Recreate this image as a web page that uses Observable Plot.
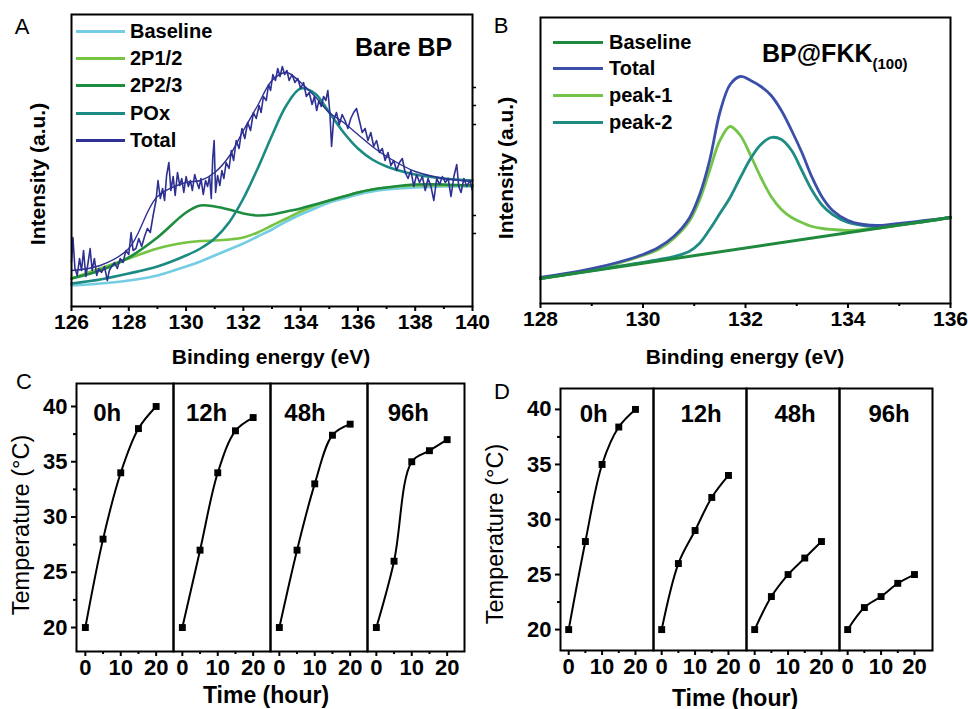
<!DOCTYPE html>
<html><head><meta charset="utf-8">
<script src="https://cdn.jsdelivr.net/npm/d3@7"></script>
<script src="https://cdn.jsdelivr.net/npm/@observablehq/plot@0.6"></script>
<style>
body{margin:0;background:#fff;}
#root{position:relative;width:968px;height:709px;overflow:hidden;font-family:"Liberation Sans",Arial,sans-serif;color:#000;}
.panel{position:absolute;}
.panel svg{overflow:visible;}
.t{position:absolute;white-space:nowrap;line-height:1;}
.leg{position:absolute;height:3px;}
</style></head><body><div id="root"></div>
<script>
// ---------- Panel A : Bare BP (XPS P 2p) ----------
const aGridE = [126,127,128,129,130,130.5,131,131.5,132,132.5,133,133.5,134,134.5,135,135.5,136,136.5,137,138,139,140];
const aBaseline = [21,23,26,31,40,45,51,57,63,70,77,85,92,98,104,108,112,115,117,119,120,120];
const a2P12     = [28,38,48,58,64,65.5,66,67,69,74,81,88,95,101,106,110,114,117,119,121,121,121];
const a2P23     = [28,36,49,69,94,101,100,97,93,91,92,95,98,102,106,110,114,117,119,122,122,121];
const aPOx      = [23,27,33,40,51,58,68,84,108,138,171,201,218,213,194,174,158,147,140,132,128,126];
const aTotalFit = [36,41,58,110,124,126,134,150,176,201,226,234,224,210,194,184,172,160,150,135,128,125];
const aRawE = [126.00,126.05,126.12,126.20,126.28,126.35,126.42,126.50,126.58,126.65,126.72,126.80,126.88,126.95,127.05,127.15,127.25,127.32,127.40,127.50,127.60,127.70,127.80,127.90,128.00,128.08,128.15,128.25,128.35,128.45,128.55,128.65,128.75,128.85,128.95,129.02,129.10,129.18,129.25,129.32,129.40,129.47,129.55,129.62,129.70,129.78,129.85,129.92,130.00,130.08,130.15,130.22,130.30,130.38,130.45,130.52,130.60,130.68,130.75,130.82,130.88,130.93,130.98,131.03,131.10,131.18,131.25,131.32,131.40,131.50,131.58,131.66,131.75,131.85,131.95,132.05,132.15,132.25,132.35,132.45,132.55,132.62,132.70,132.80,132.88,132.95,133.03,133.12,133.20,133.28,133.36,133.44,133.52,133.60,133.70,133.80,133.90,134.00,134.10,134.20,134.30,134.40,134.48,134.56,134.64,134.72,134.80,134.88,134.95,135.02,135.08,135.15,135.25,135.35,135.45,135.55,135.65,135.75,135.85,135.95,136.05,136.15,136.25,136.35,136.45,136.55,136.65,136.75,136.85,136.95,137.05,137.15,137.25,137.35,137.45,137.55,137.65,137.75,137.85,137.95,138.05,138.15,138.25,138.35,138.45,138.55,138.65,138.75,138.85,138.95,139.05,139.15,139.25,139.35,139.45,139.52,139.60,139.70,139.80,139.90,140.00];
const aRawI = [44,69,38,31,48,36,56,30,44,58,36,48,31,38,34,40,26,36,40,44,38,48,44,56,52,74,56,58,68,60,70,78,74,91,106,126,108,118,106,131,144,116,130,111,134,121,128,114,130,120,126,116,132,124,118,128,112,126,120,130,108,148,166,114,131,121,136,128,144,138,156,146,166,158,178,168,184,176,194,188,201,194,210,206,222,216,232,226,238,230,240,232,236,226,232,224,228,218,224,210,214,202,210,196,206,200,210,206,216,194,160,186,194,182,192,186,178,188,194,198,186,174,178,166,174,160,166,154,158,146,154,141,146,136,144,148,134,128,136,120,132,124,130,116,128,120,106,128,122,130,124,128,110,130,142,120,114,128,120,126,116];
const aRightTicks = [73,91,182,201,219];
const aLegend = ["Baseline","2P1/2","2P2/3","POx","Total"];

// ---------- Panel B : BP@FKK(100) ----------
const bGridE = [128,128.5,129,129.5,130,130.3,130.6,130.9,131.1,131.3,131.5,131.7,131.9,132.1,132.3,132.5,132.7,132.9,133.1,133.3,133.5,133.7,134,134.3,134.6,135,135.5,136];
const bTotal = [26,30,35,41,49,56,67,85,108,143,191,219,227,223,217,208,193,173,151,126,106,93,83,79,78,80,83,86];
const bPeak1 = [25,29,34,40,48,54,65,82,103,133,163,177,168,148,126,107,94,86,81,77,75,74,73,74,75.5,78.5,82,86];
const bPeak2 = [25,29,33,37,41,44,47,52,60,74,90,106,126,145,159,166,164,153,133,113,98,89,81,78,77,79,82,86];
const bBaseE = [128,136];
const bBaseline = [25,86];
const bLegend = ["Baseline","Total","peak-1","peak-2"];

// ---------- Panels C, D : temperature vs time ----------
const hours = [0,5,10,15,20];
const stages = ["0h","12h","48h","96h"];
const c0h = [20,28,34,38,40];
const c12h = [20,27,34,37.8,39];
const c48h = [20,27,33,37.4,38.4];
const c96h = [20,26,35,36,37];
const d0h = [20,28,35,38.4,40];
const d12h = [20,26,29,32,34];
const d48h = [20,23,25,26.5,28];
const d96h = [20,22,23,24.2,25];
const xTicksTime = [0,10,20];
const yTicksTemp = [20,25,30,35,40];

// ---------- helpers ----------
const root = document.getElementById("root");
const FONT = '"Liberation Sans", Arial, sans-serif';
const baseStyle = {fontFamily: FONT, fontSize: "21px", fontWeight: "bold", color: "#000", background: "transparent", overflow: "visible"};
function place(el, left, top) {
  const d = document.createElement("div");
  d.className = "panel"; d.style.left = left + "px"; d.style.top = top + "px";
  d.appendChild(el); root.appendChild(d);
}
function text(html, x, y, o = {}) {
  const d = document.createElement("div");
  d.className = "t";
  d.innerHTML = html;
  d.style.fontSize = (o.size || 21) + "px";
  d.style.fontWeight = o.weight || "bold";
  d.style.left = x + "px"; d.style.top = y + "px";
  const ax = o.anchor === "start" ? "0" : "-50%";
  d.style.transform = `translate(${ax},-50%)`;
  if (o.rotate) { d.style.transform = `translate(-50%,-50%) rotate(${o.rotate}deg)`; }
  root.appendChild(d);
}
function legend(names, colors, x0, x1, ys, tx) {
  names.forEach((n, i) => {
    const l = document.createElement("div");
    l.className = "leg"; l.style.left = x0 + "px"; l.style.width = (x1 - x0) + "px";
    l.style.top = (ys[i] - 1.5) + "px"; l.style.background = colors[i];
    root.appendChild(l);
    text(n, tx, ys[i], {size: 20, anchor: "start"});
  });
}
const rows = (E, V) => E.map((e, i) => ({e, v: V[i]}));

// ---------- Panel A ----------
const colA = ["#74cde3", "#76c442", "#1e8c3f", "#1b8a82", "#2e3192"];
const plotA = Plot.plot({
  width: 480, height: 360, marginLeft: 71, marginRight: 8, marginTop: 14, marginBottom: 54,
  style: baseStyle,
  x: {domain: [126, 140]},
  y: {domain: [0, 292]},
  marks: [
    Plot.line(rows(aGridE, aBaseline), {x: "e", y: "v", stroke: colA[0], strokeWidth: 2.6, curve: "catmull-rom"}),
    Plot.line(rows(aGridE, a2P12), {x: "e", y: "v", stroke: colA[1], strokeWidth: 2.6, curve: "catmull-rom"}),
    Plot.line(rows(aGridE, a2P23), {x: "e", y: "v", stroke: colA[2], strokeWidth: 2.6, curve: "catmull-rom"}),
    Plot.line(rows(aGridE, aPOx), {x: "e", y: "v", stroke: colA[3], strokeWidth: 2.6, curve: "catmull-rom"}),
    Plot.line(rows(aRawE, aRawI), {x: "e", y: "v", stroke: colA[4], strokeWidth: 1.6}),
    Plot.line(rows(aGridE, aTotalFit), {x: "e", y: "v", stroke: colA[4], strokeWidth: 1.4, curve: "catmull-rom"}),
    Plot.frame({stroke: "black", strokeWidth: 2}),
    Plot.axisX({ticks: d3.range(126, 141, 2), tickSize: 5, tickPadding: 3, strokeWidth: 2, label: null}),
    Plot.axisX({ticks: d3.range(127, 140, 2), tickSize: 3, strokeWidth: 2, tickFormat: () => "", label: null}),
    Plot.axisY({anchor: "right", ticks: aRightTicks, tickSize: 3, strokeWidth: 1.5, tickFormat: () => "", label: null})
  ]
});
place(plotA, 0, 0);

// ---------- Panel B ----------
const colB = ["#1f8a3e", "#3b4fa8", "#72c548", "#1f8c84"];
const plotB = Plot.plot({
  width: 488, height: 360, marginLeft: 60, marginRight: 18, marginTop: 17, marginBottom: 57,
  style: baseStyle,
  x: {domain: [128, 136]},
  y: {domain: [0, 286], axis: null},
  marks: [
    Plot.line(rows(bGridE, bPeak1), {x: "e", y: "v", stroke: colB[2], strokeWidth: 2.8, curve: "catmull-rom"}),
    Plot.line(rows(bGridE, bPeak2), {x: "e", y: "v", stroke: colB[3], strokeWidth: 2.8, curve: "catmull-rom"}),
    Plot.line(rows(bGridE, bTotal), {x: "e", y: "v", stroke: colB[1], strokeWidth: 2.8, curve: "catmull-rom"}),
    Plot.line(rows(bBaseE, bBaseline), {x: "e", y: "v", stroke: colB[0], strokeWidth: 3}),
    Plot.frame({stroke: "black", strokeWidth: 2}),
    Plot.axisX({ticks: d3.range(128, 137, 2), tickSize: 5, tickPadding: 3, strokeWidth: 2, label: null}),
    Plot.axisX({ticks: d3.range(129, 136, 2), tickSize: 3, strokeWidth: 2, tickFormat: () => "", label: null})
  ]
});
place(plotB, 480, 0);

// ---------- Panels C & D ----------
function tempPlot(series, o) {
  const data = [];
  stages.forEach((s, k) => hours.forEach((h, i) => data.push({s, h, t: series[k][i]})));
  return Plot.plot({
    width: o.width, height: 349, marginLeft: o.ml, marginRight: o.mr, marginTop: o.mt, marginBottom: o.mb,
    style: {...baseStyle, fontSize: "22px"},
    fx: {domain: stages, padding: 0, axis: null},
    x: {domain: o.xd},
    y: {domain: o.yd},
    marks: [
      Plot.frame({stroke: "black", strokeWidth: 2}),
      Plot.line(data, {fx: "s", x: "h", y: "t", stroke: "black", strokeWidth: 2, curve: "catmull-rom"}),
      Plot.dot(data, {fx: "s", x: "h", y: "t", symbol: "square", fill: "black", r: 3.9}),
      Plot.text(stages, {fx: d => d, x: d => o.labelX[d], y: o.labelY, text: d => d, textAnchor: "start", fontSize: 24}),
      Plot.axisX({ticks: xTicksTime, tickSize: 5, tickPadding: 3, strokeWidth: 2, label: null}),
      Plot.axisX({ticks: [5, 15], tickSize: 3, strokeWidth: 2, tickFormat: () => "", label: null}),
      Plot.axisY({ticks: yTicksTemp, tickSize: 5, tickPadding: 4, strokeWidth: 2, label: null}),
      Plot.axisY({ticks: [22.5, 27.5, 32.5, 37.5], tickSize: 3, strokeWidth: 2, tickFormat: () => "", label: null})
    ]
  });
}
place(tempPlot([c0h, c12h, c48h, c96h], {
  width: 480, ml: 75, mr: 15, mt: 23, mb: 58, xd: [-2.5, 24.9], yd: [17.83, 42.08],
  labelX: {"0h": 2.2, "12h": 1.0, "48h": 1.4, "96h": 3.2}, labelY: 39.4
}), 0, 360);
place(tempPlot([d0h, d12h, d48h, d96h], {
  width: 488, ml: 79, mr: 36, mt: 28, mb: 59, xd: [-2.45, 25.4], yd: [18.1, 41.9],
  labelX: {"0h": 3.3, "12h": 5.6, "48h": 5.9, "96h": 6.2}, labelY: 39.6
}), 480, 360);

// ---------- texts ----------
text("A", 22, 27, {size: 22, weight: "normal"});
text("B", 501, 26, {size: 22, weight: "normal"});
text("C", 24, 382, {size: 22, weight: "normal"});
text("D", 502, 392, {size: 22, weight: "normal"});

text("Bare BP", 355, 47, {size: 25, anchor: "start"});
text('BP@FKK<span style="font-size:15px;position:relative;top:0.45em">(100)</span>', 762, 53, {size: 25, anchor: "start"});

text("Binding energy (eV)", 271, 356, {size: 21});
text("Binding energy (eV)", 745, 356, {size: 21});
text("Intensity (a.u.)", 37, 174, {size: 21, rotate: -90});
text("Intensity (a.u.)", 505, 168, {size: 21, rotate: -90});

text("Temperature (°C)", 22, 525, {size: 23.5, weight: "normal", rotate: -90});
text("Temperature (°C)", 496, 534, {size: 23.5, weight: "normal", rotate: -90});
text("Time (hour)", 266, 695, {size: 23});
text("Time (hour)", 735, 698, {size: 23});

legend(aLegend, colA, 76, 125, [31, 58, 85, 113, 140], 130);
legend(bLegend, colB, 553, 603, [42, 68, 95, 122], 609);
</script>
</body></html>
